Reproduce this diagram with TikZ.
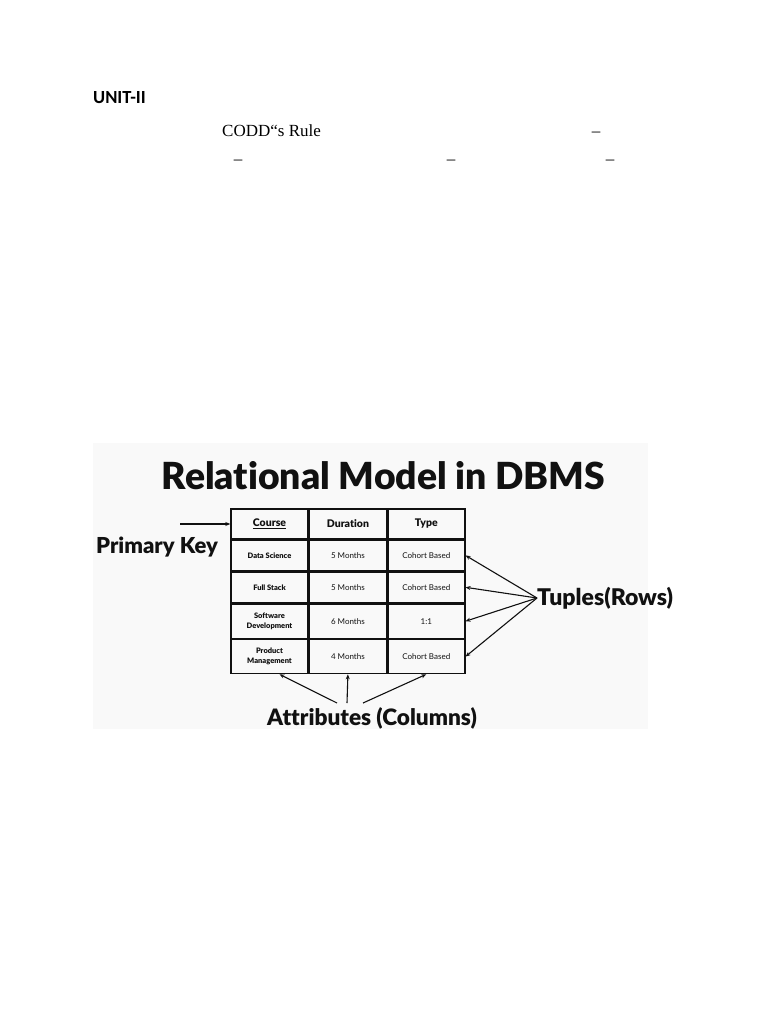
\documentclass[tikz,border=0pt]{standalone}
\usepackage{fontspec}
\setmainfont{Liberation Serif}
\IfFontExistsTF{Lato Black}
  {\newfontfamily\canva[Ligatures=NoCommon, BoldFont={Lato Black}]{Lato}}
  {\newfontfamily\canva[Ligatures=NoCommon]{Lato}}
\newfontfamily\unitfont{Carlito}
\usetikzlibrary{positioning,arrows.meta}
\definecolor{cPanel}{HTML}{F9F9F9}
\definecolor{cInk}{HTML}{111111}
\tikzset{
  cell/.style={draw=cInk, line width=1.4pt, minimum width=77pt, inner sep=0pt,
               align=center, text=cInk, font=\canva\fontsize{8}{10}\selectfont},
  head/.style={cell, minimum height=30pt, font=\canva\bfseries\fontsize{10.5}{12}\selectfont},
  namec/.style={cell, font=\canva\bfseries\fontsize{7.5}{10}\selectfont},
  rowa/.style={minimum height=30pt},
  rowb/.style={minimum height=31pt},
  rowc/.style={minimum height=34pt},
  big/.style={font=\canva\bfseries\fontsize{23}{26}\selectfont, text=cInk, inner sep=0pt},
  endash/.style={anchor=base, inner sep=0pt, font=\fontsize{17}{20}\selectfont},
  ar/.style={-{Stealth[length=5pt,width=4pt]}, line width=1.1pt, cInk},
}

\begin{document}
\begin{tikzpicture}[x=1pt, y=-1pt]
  \useasboundingbox[fill=white] (0,0) rectangle (768,1024);

  % page text
  \node[anchor=west, inner sep=0pt, font=\unitfont\bfseries\fontsize{18.5}{20}\selectfont] (unit) at (93,98) {UNIT-II};
  \node[anchor=base west, inner sep=0pt, font=\fontsize{17}{20}\selectfont] (codd) at (222,137) {CODD“s Rule};
  \node[endash] (d1) at (596,137) {–};
  \node[endash] (d2) at (238,165) {–};
  \node[endash] (d3) at (451,165) {–};
  \node[endash] (d4) at (610,165) {–};

  % figure panel
  \fill[cPanel] (93,443) rectangle (648,729);
  \node[big, font=\canva\bfseries\fontsize{37.3}{40}\selectfont] (title) at (383.5,476) {Relational Model in DBMS};

  % table
  \node[head] (hC) at (269.5,524) {\underline{Course}};
  \node[head, right=0pt of hC] (hD) {Duration};
  \node[head, right=0pt of hD] (hT) {Type};

  \node[namec, rowa, below=0pt of hC] (r1c1) {Data Science};
  \node[cell, rowa, right=0pt of r1c1] (r1c2) {5 Months};
  \node[cell, rowa, right=0pt of r1c2] (r1c3) {Cohort Based};

  \node[namec, rowb, below=0pt of r1c1] (r2c1) {Full Stack};
  \node[cell, rowb, right=0pt of r2c1] (r2c2) {5 Months};
  \node[cell, rowb, right=0pt of r2c2] (r2c3) {Cohort Based};

  \node[namec, rowc, below=0pt of r2c1] (r3c1) {Software\\Development};
  \node[cell, rowc, right=0pt of r3c1] (r3c2) {6 Months};
  \node[cell, rowc, right=0pt of r3c2] (r3c3) {1:1};

  \node[namec, rowc, below=0pt of r3c1] (r4c1) {Product\\Management};
  \node[cell, rowc, right=0pt of r4c1] (r4c2) {4 Months};
  \node[cell, rowc, right=0pt of r4c2] (r4c3) {Cohort Based};

  % labels
  \node[big, font=\canva\bfseries\fontsize{22}{26}\selectfont] (pk) at (157,547) {Primary Key};
  \coordinate (pkTail) at (180,524);
  \draw[ar] (pkTail) -- (hC.west);

  \node[big, anchor=west] (tup) at (537,598) {Tuples(Rows)};
  \foreach \r in {r1c3,r2c3,r3c3,r4c3}
    \draw[ar] (tup.west) -- (\r.east);

  \node[big, font=\canva\bfseries\fontsize{22.6}{26}\selectfont] (attr) at (372,718) {Attributes (Columns)};
  \coordinate (attA) at (337,703);
  \coordinate (attB) at (347,703);
  \coordinate (attC) at (363,703);
  \draw[ar] (attA) -- ([xshift=10pt]r4c1.south);
  \draw[ar] (attB) -- (r4c2.south);
  \draw[ar] (attC) -- (r4c3.south);
\end{tikzpicture}
\end{document}
